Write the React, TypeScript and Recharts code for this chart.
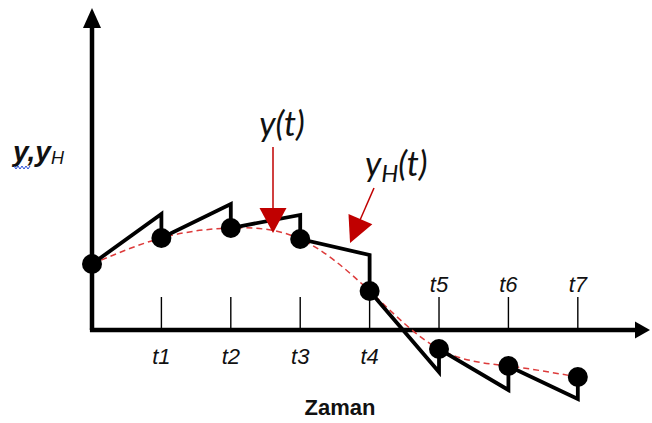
import { LineChart, Line, XAxis, YAxis, ReferenceLine } from "recharts";

// sample instants t0..t7 and measured values y(tk)
const sampleT = [0, 1, 2, 3, 4, 5, 6, 7];
const sampleY = [6.6, 9.2, 10.2, 9.1, 3.9, -1.9, -3.6, -4.7];

// first-order hold output yH(t), jumps back to the sample at every tk
const holdT = [0, 1, 1, 2, 2, 3, 3, 4, 4, 5, 5, 6, 6, 7, 7];
const holdY = [6.6, 11.6, 9.2, 12.6, 10.2, 11.5, 9.1, 7.5, 3.9, -4.2, -1.9, -6.0, -3.6, -6.9, -4.7];

const tickT = [1, 2, 3, 4, 5, 6, 7];
const tickLabels = ["t1", "t2", "t3", "t4", "t5", "t6", "t7"];

const samples = sampleT.map((t, i) => ({ t, v: sampleY[i] }));
const hold = holdT.map((t, i) => ({ t, v: holdY[i] }));

const X_MAX = 8.04;
const Y_MIN = -9;
const Y_MAX = 32.2;
const TICK_H = 3.3;

const DARK_RED = "#c00000";
const CURVE_RED = "#dd3b3b";

function Arrow(props: any) {
  const { x1, y1, x2, y2, color, width, headLen, headWidth, children } = props;
  const dx = x2 - x1;
  const dy = y2 - y1;
  const len = Math.hypot(dx, dy);
  const ux = dx / len;
  const uy = dy / len;
  const bx = x2 - ux * headLen;
  const by = y2 - uy * headLen;
  const px = (-uy * headWidth) / 2;
  const py = (ux * headWidth) / 2;
  return (
    <g>
      <line x1={x1} y1={y1} x2={bx + ux * 2} y2={by + uy * 2} stroke={color} strokeWidth={width} />
      <polygon points={`${x2},${y2} ${bx + px},${by + py} ${bx - px},${by - py}`} fill={color} />
      {children}
    </g>
  );
}

function TickMark(props: any) {
  const { x1, y1, x2, y2, label, below } = props;
  return (
    <g>
      <line x1={x1} y1={y1} x2={x2} y2={y2} stroke="#000" strokeWidth={1.4} />
      <text
        x={x1}
        y={below ? y1 + 34 : y2 - 5}
        textAnchor="middle"
        fontFamily="Liberation Sans, Arial, sans-serif"
        fontStyle="italic"
        fontSize={22}
        fill="#111"
      >
        {label}
      </text>
    </g>
  );
}

export default function App() {
  return (
    <div style={{ position: "absolute", left: 0, top: 0, background: "#fff" }}>
      <LineChart width={652} height={423} margin={{ top: 8, right: 2, bottom: 3, left: 92 }}>
        <XAxis type="number" dataKey="t" domain={[0, X_MAX]} hide allowDuplicatedCategory={false} />
        <YAxis type="number" dataKey="v" domain={[Y_MIN, Y_MAX]} hide />

        {/* y axis with arrow */}
        <ReferenceLine
          ifOverflow="visible"
          segment={[{ x: 0, y: 0 }, { x: 0, y: Y_MAX }]}
          shape={(p: any) => <Arrow {...p} color="#000" width={4.5} headLen={20} headWidth={18} />}
        />
        {/* x axis with arrow */}
        <ReferenceLine
          ifOverflow="visible"
          segment={[{ x: -0.03, y: 0 }, { x: X_MAX, y: 0 }]}
          shape={(p: any) => <Arrow {...p} color="#000" width={4.5} headLen={15} headWidth={17} />}
        />

        {tickT.map((t, i) => (
          <ReferenceLine
            key={tickLabels[i]}
            ifOverflow="visible"
            segment={[{ x: t, y: 0 }, { x: t, y: TICK_H }]}
            shape={(p: any) => <TickMark {...p} label={tickLabels[i]} below={i < 4} />}
          />
        ))}

        <Line
          data={samples}
          dataKey="v"
          type="natural"
          stroke={CURVE_RED}
          strokeWidth={1.5}
          strokeDasharray="6 4"
          dot={false}
          isAnimationActive={false}
        />
        <Line
          data={hold}
          dataKey="v"
          type="linear"
          stroke="#000"
          strokeWidth={3.8}
          strokeLinejoin="miter"
          dot={false}
          isAnimationActive={false}
        />
        <Line
          data={samples}
          dataKey="v"
          stroke="none"
          dot={{ r: 10, fill: "#000", stroke: "none" }}
          isAnimationActive={false}
        />

        {/* annotation arrows */}
        <ReferenceLine
          ifOverflow="visible"
          segment={[{ x: 2.608, y: 18.3 }, { x: 2.608, y: 9.7 }]}
          shape={(p: any) => (
            <Arrow {...p} color={DARK_RED} width={1.5} headLen={25} headWidth={27}>
              <text
                x={p.x1 + 9}
                y={p.y1 - 11}
                textAnchor="middle"
                fontFamily="Lato, sans-serif"
                fontStyle="italic"
                fontSize={34}
                fill="#111"
              >
                y(t)
              </text>
            </Arrow>
          )}
        />
        <ReferenceLine
          ifOverflow="visible"
          segment={[{ x: 4.063, y: 14.2 }, { x: 3.718, y: 8.7 }]}
          shape={(p: any) => (
            <Arrow {...p} color={DARK_RED} width={1.5} headLen={26} headWidth={26}>
              <text
                x={p.x1 - 9}
                y={p.y1 - 12}
                fontFamily="Lato, sans-serif"
                fontStyle="italic"
                fontSize={34}
                fill="#111"
              >
                y
                <tspan fontSize={24} dy={6}>H</tspan>
                <tspan dy={-6}>(t)</tspan>
              </text>
            </Arrow>
          )}
        />

        {/* axis titles */}
        <text
          x={340}
          y={415}
          textAnchor="middle"
          fontFamily="Liberation Sans, Arial, sans-serif"
          fontWeight="bold"
          fontSize={22}
          fill="#111"
        >
          Zaman
        </text>
        <text x={13} y={161} fontFamily="Liberation Sans, Arial, sans-serif" fill="#111">
          <tspan fontWeight="bold" fontStyle="italic" fontSize={28}>y,y</tspan>
          <tspan fontStyle="italic" fontSize={18} dy={3}>H</tspan>
        </text>
        <polyline
          points="14,166 16,169 18,166 20,169 22,166 24,169 26,166 28,169 30,166"
          fill="none"
          stroke="#2b4fd8"
          strokeWidth={1}
        />
      </LineChart>
    </div>
  );
}
